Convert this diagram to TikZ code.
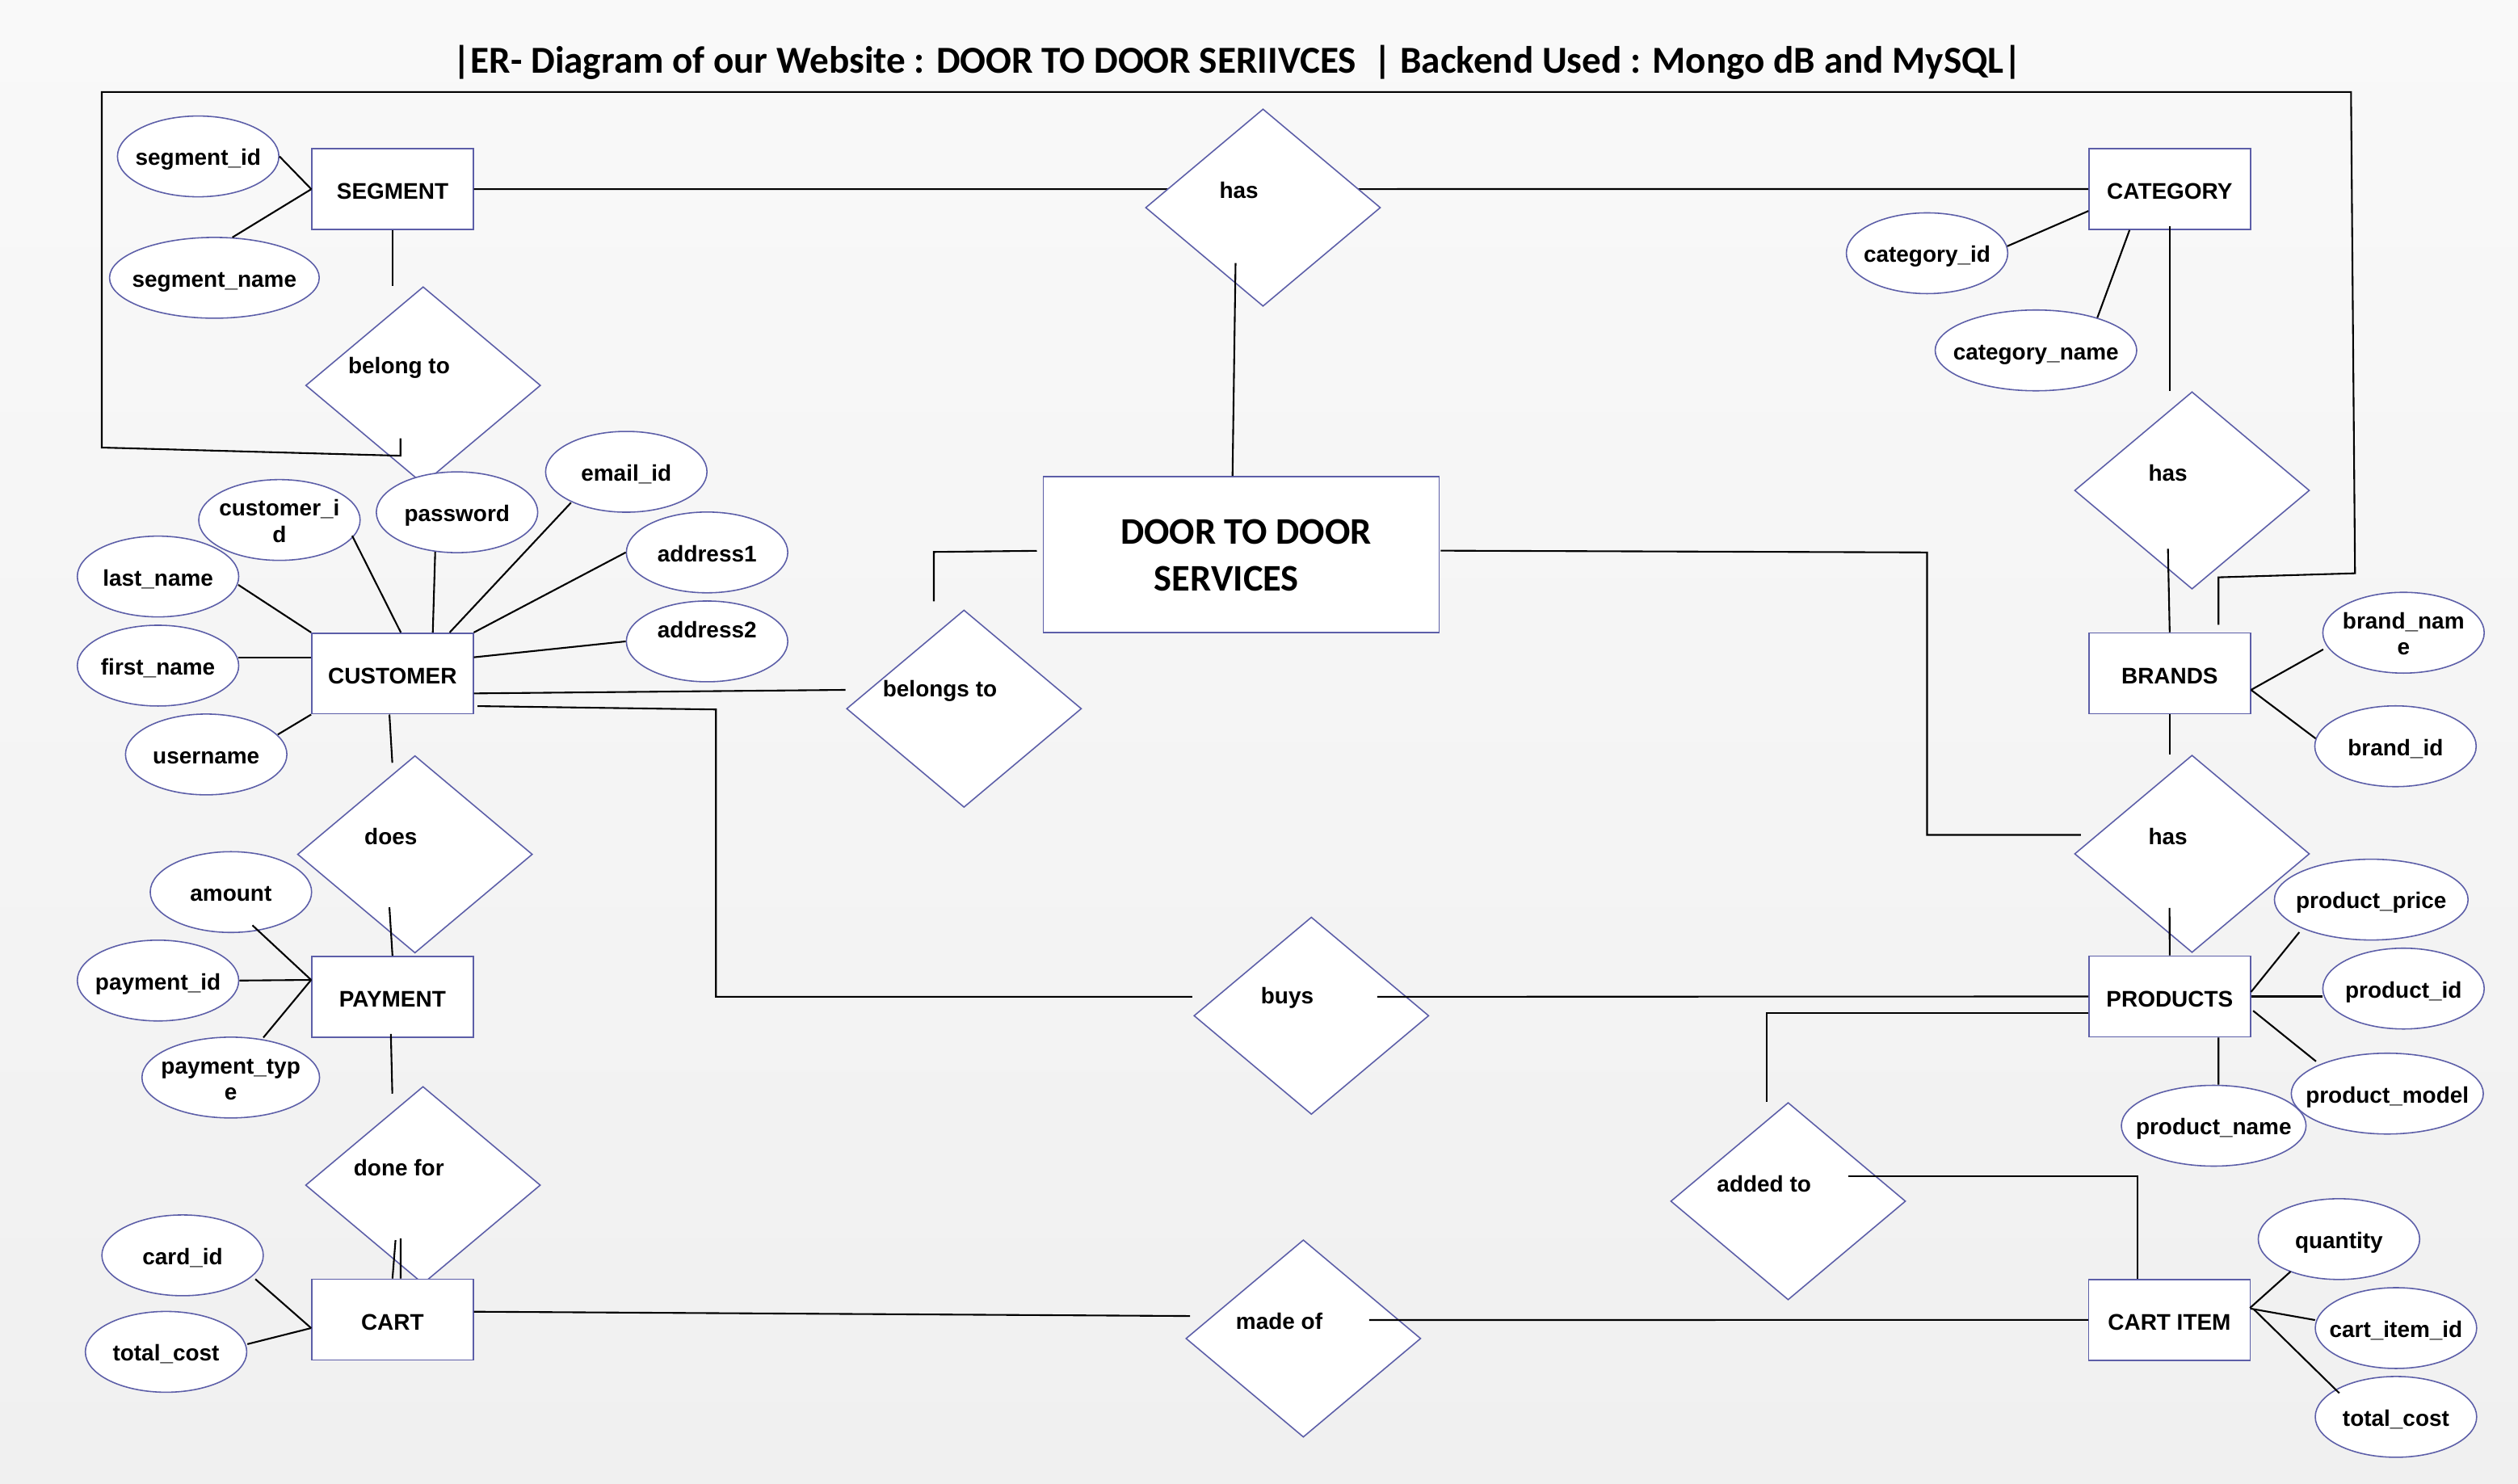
\documentclass[tikz,border=0pt]{standalone}
\usepackage{fontspec}
\setmainfont{Liberation Sans}
\newfontfamily\calib{Carlito}
\usetikzlibrary{shapes.geometric,calc}
\definecolor{ercol}{RGB}{92,94,168}
\definecolor{bgtop}{RGB}{249,249,249}
\definecolor{bgbot}{RGB}{240,240,240}
\newcommand\zb[1]{\makebox[0pt]{\raisebox{-1.4pt}[\height][\depth]{\begin{tabular}{@{}c@{}}#1\end{tabular}}}}
\begin{document}
\begin{tikzpicture}[x=0.2mm,y=-0.2mm,
  lbl/.style={font=\fontsize{8}{9.3}\selectfont\bfseries, inner sep=0pt},
  ent/.style={lbl, draw=ercol, fill=white, line width=0.45pt, minimum width=20.1mm, minimum height=10.06mm, text height=7.3pt, text depth=0pt},
  attr/.style={lbl, ellipse, draw=ercol, fill=white, line width=0.45pt, minimum width=20.1mm, minimum height=10.06mm},
  rel/.style={diamond, draw=ercol, fill=white, line width=0.45pt, minimum width=29.26mm, minimum height=24.58mm, inner sep=0pt},
  conn/.style={line width=0.6pt, black},
  bigtxt/.style={anchor=base, inner sep=0pt, font=\calib\fontsize{13.3}{15}\selectfont\bfseries},
]
\shade[top color=bgtop, bottom color=bgbot] (0,0) rectangle (1568,924);
\useasboundingbox (0,0) rectangle (1568,924);

\node[anchor=base, inner sep=0pt, font=\calib\fontsize{13.5}{15}\selectfont\bfseries] (title) at (770.5,45.3)
  {|ER- Diagram of our Website : DOOR TO DOOR SERIIVCES~~| Backend Used : Mongo dB and MySQL|};

% entities joined behind the top diamond
\node[ent] (seg) at (244.5,117.8) {SEGMENT};
\node[ent] (cat) at (1351.1,117.7) {CATEGORY};
\draw[conn] (seg.east) -- (cat.west);

% relationships
\node[rel] (has1) at (786.5,129.3) {};
\node[rel] (bt) at (263.5,240) {};
\node[rel] (bs) at (600.3,441.3) {};
\node[rel] (does) at (258.4,532) {};
\node[rel] (df) at (263.4,738) {};
\node[rel] (buys) at (816.6,632.5) {};
\node[rel] (mo) at (811.6,833.5) {};
\node[rel] (add) at (1113.5,748) {};
\node[rel] (has2) at (1365,305.4) {};
\node[rel] (has3) at (1365,531.7) {};
\node[lbl] (has1t) at ($(has1)+(-15,-11)$) {has};
\node[lbl] (btt) at ($(bt)+(-15,-11)$) {belong to};
\node[lbl] (bst) at ($(bs)+(-15,-11)$) {belongs to};
\node[lbl] (doest) at ($(does)+(-15,-11)$) {does};
\node[lbl] (dft) at ($(df)+(-15,-11)$) {done for};
\node[lbl] (buyst) at ($(buys)+(-15,-11)$) {buys};
\node[lbl] (mot) at ($(mo)+(-15,-11)$) {made of};
\node[lbl] (addt) at ($(add)+(-15,-11)$) {added to};
\node[lbl] (has2t) at ($(has2)+(-15,-11)$) {has};
\node[lbl] (has3t) at ($(has3)+(-15,-11)$) {has};

% entities
\node[ent] (cu) at (244.4,419.4) {CUSTOMER};
\node[ent] (pay) at (244.4,620.7) {PAYMENT};
\node[ent] (cart) at (244.4,821.7) {CART};
\node[ent] (br) at (1351.1,419.3) {BRANDS};
\node[ent] (pr) at (1351.1,620.5) {PRODUCTS};
\node[ent] (ci) at (1350.9,821.9) {CART ITEM};
\node[ent, minimum width=49.3mm, minimum height=19.4mm] (door) at (773,345.3) {};
\node[bigtxt] (doort1) at (776,338.7) {DOOR TO DOOR};
\node[bigtxt] (doort2) at (763.8,368) {SERVICES};

% attributes
\node[attr] (sid) at (123.4,97.4) {\zb{segment\_id}};
\node[attr, minimum width=26.12mm] (sname) at (133.5,173) {\zb{segment\_name}};
\node[attr] (cid) at (1200,157.7) {\zb{category\_id}};
\node[attr, minimum width=25.1mm] (cname) at (1267.8,218.2) {\zb{category\_name}};
\node[attr] (custid) at (174,323.8) {\zb{customer\_i\\d}};
\node[attr] (pw) at (284.6,319) {\zb{password}};
\node[attr] (email) at (390,293.8) {\zb{email\_id}};
\node[attr] (lname) at (98.4,359) {\zb{last\_name}};
\node[attr] (addr1) at (440.3,344) {\zb{address1}};
\node[attr] (addr2) at (440.3,399.4) {\zb{address2\\ \mbox{}}};
\node[attr] (fname) at (98.4,414.5) {\zb{first\_name}};
\node[attr] (uname) at (128.4,469.8) {\zb{username}};
\node[attr] (bname) at (1496.7,394) {\zb{brand\_nam\\e}};
\node[attr] (bid) at (1491.7,464.7) {\zb{brand\_id}};
\node[attr, minimum width=24.12mm] (pprice) at (1476.6,560.2) {\zb{product\_price}};
\node[attr] (pid) at (1496.7,615.6) {\zb{product\_id}};
\node[attr, minimum width=23mm] (pname) at (1378.5,701) {\zb{product\_name}};
\node[attr, minimum width=23.92mm] (pmodel) at (1486.6,681) {\zb{product\_model}};
\node[attr] (qty) at (1456.5,771.6) {\zb{quantity}};
\node[attr] (ciid) at (1492,827) {\zb{cart\_item\_id}};
\node[attr] (tc2) at (1492,882.3) {\zb{total\_cost}};
\node[attr] (amount) at (143.8,555.5) {\zb{amount}};
\node[attr] (payid) at (98.4,610.6) {\zb{payment\_id}};
\node[attr, minimum width=22.12mm] (ptype) at (143.7,671) {\zb{payment\_typ\\e}};
\node[attr] (cardid) at (113.7,781.7) {\zb{card\_id}};
\node[attr] (tc1) at (103.4,841.8) {\zb{total\_cost}};

% SEGMENT
\draw[conn] (sid.east) -- (seg.west);
\draw[conn] (sname.66) -- (seg.west);
\draw[conn] (seg.south) -- (seg.south |- bt.north);
% CATEGORY
\draw[conn] (cid.5) -- ([shift={(0,13.7)}]cat.west);
\draw[conn] (cname.28) -- ([shift={(-25,0)}]cat.south);
\draw[conn] ([shift={(0,-2.6)}]cat.south) -- (cat.south |- has2.north);
% BRANDS
\draw[conn] ([shift={(-15,36.3)}]has2.center) -- (br.north);
\draw[conn] ([shift={(-50,10.4)}]bname.center) -- ([shift={(0,10.3)}]br.east);
\draw[conn] ([shift={(-49.7,-4.8)}]bid.center) -- ([shift={(0,10.3)}]br.east);
\draw[conn] (br.south) -- (br.south |- has3.north);
% PRODUCTS
\draw[conn] ([shift={(-14,33.7)}]has3.center) -- (pr.north);
\draw[conn] ([shift={(-44.8,20.3)}]pprice.center) -- ([shift={(0,-2.8)}]pr.east);
\draw[conn] (pr.east) -- (pr.east -| pid.west);
\draw[conn] ([shift={(-44.4,-20.1)}]pmodel.center) -- ([shift={(1.3,8.9)}]pr.east);
\draw[conn] ([shift={(30.4,0)}]pr.south) -- ([shift={(3,0)}]pname.north);
\draw[conn] ([shift={(0,10.3)}]pr.west) -| ([shift={(-13.5,0)}]add.north);
% CART ITEM
\draw[conn] ([shift={(-30.1,20.2)}]qty.center) -- ([shift={(-0.5,-7.4)}]ci.east);
\draw[conn] ([shift={(-50.4,-5)}]ciid.center) -- ([shift={(0,-7)}]ci.east);
\draw[conn] ([shift={(-35.3,-14.8)}]tc2.center) -- ([shift={(2,-6.5)}]ci.east);
\draw[conn] ([shift={(37.5,-15.7)}]add.center) -| ([shift={(-19.7,0)}]ci.north);
\draw[conn] ([shift={(41,-11.5)}]mo.center) -- (ci.west);
% CART
\draw[conn] ([shift={(0,-4.9)}]cart.east) -- ([shift={(3,-14)}]mo.west);
\draw[conn] ([shift={(45.3,14.8)}]cardid.center) -- ([shift={(0,5.3)}]cart.west);
\draw[conn] (tc1.east) ++(0,-4.8) -- ([shift={(0,5.3)}]cart.west);
\draw[conn] (cart.north) -- ([shift={(-17.1,34.2)}]df.center);
\draw[conn] ([shift={(5.1,0)}]cart.north) -- ([shift={(-13.9,33.2)}]df.center);
% PAYMENT
\draw[conn] ([shift={(13.4,20.7)}]amount.center) -- ([shift={(0,-10.5)}]pay.west);
\draw[conn] (payid.east) -- ([shift={(0,-10.5)}]pay.west);
\draw[conn] ([shift={(20.3,-24.9)}]ptype.center) -- ([shift={(0,-10.5)}]pay.west);
\draw[conn] ([shift={(-1,-2.4)}]pay.south) -- ([shift={(-19.1,-57)}]df.center);
\draw[conn] ([shift={(-15.9,33)}]does.center) -- (pay.north);
% CUSTOMER
\draw[conn] ([shift={(50,5.2)}]lname.center) -- (cu.north west);
\draw[conn] ([shift={(45.3,9.8)}]custid.center) -- ([shift={(5.2,0)}]cu.north);
\draw[conn] ([shift={(-13.6,24.7)}]pw.center) -- ([shift={(25.1,0)}]cu.north);
\draw[conn] ([shift={(-34.4,19.2)}]email.center) -- ([shift={(35.6,0)}]cu.north);
\draw[conn] (addr1.west) -- (cu.north east);
\draw[conn] (addr2.west) -- ([shift={(0,-10.1)}]cu.east);
\draw[conn] ([shift={(50,-5)}]fname.center) -- ([shift={(0,-9.9)}]cu.west);
\draw[conn] ([shift={(44.6,-12.4)}]uname.center) -- (cu.south west);
\draw[conn] ([shift={(-1.9,0)}]cu.south) -- ([shift={(-14.1,-57)}]does.center);
\draw[conn] ([shift={(0,12.4)}]cu.east) -- ([shift={(-73.8,-11.7)}]bs.center);
\draw[conn] ([shift={(2.3,20.3)}]cu.east) -- (445.8,441.8) -- (445.8,620.7) -- ([shift={(-0.6,-11.8)}]buys.west);
\draw[conn] ([shift={(41,-11.8)}]buys.center) -- (pr.west);
% DOOR TO DOOR SERVICES
\draw[conn] ([shift={(-17.1,34.5)}]has1.center) -- ([shift={(-5.5,0)}]door.north);
\draw[conn] ([shift={(-3.7,-2.3)}]door.west) -- (581.5,343.7) -- ([shift={(-18.8,-66.9)}]bs.center);
\draw[conn] ([shift={(0.5,-2.4)}]door.east) -- (1200,344) -- (1200,519.9) -- ([shift={(-69.2,-11.8)}]has3.center);
% outer loop from BRANDS to belong to
\draw[conn] ([shift={(30.4,-4.7)}]br.north) -- (1381.5,359.5) -- (1466.5,357) -- (1464,57.3) -- (63.4,57.3) -- (63.4,278.7) -- (249.4,283.8) -- ([shift={(-14.1,33)}]bt.center);
\end{tikzpicture}
\end{document}
